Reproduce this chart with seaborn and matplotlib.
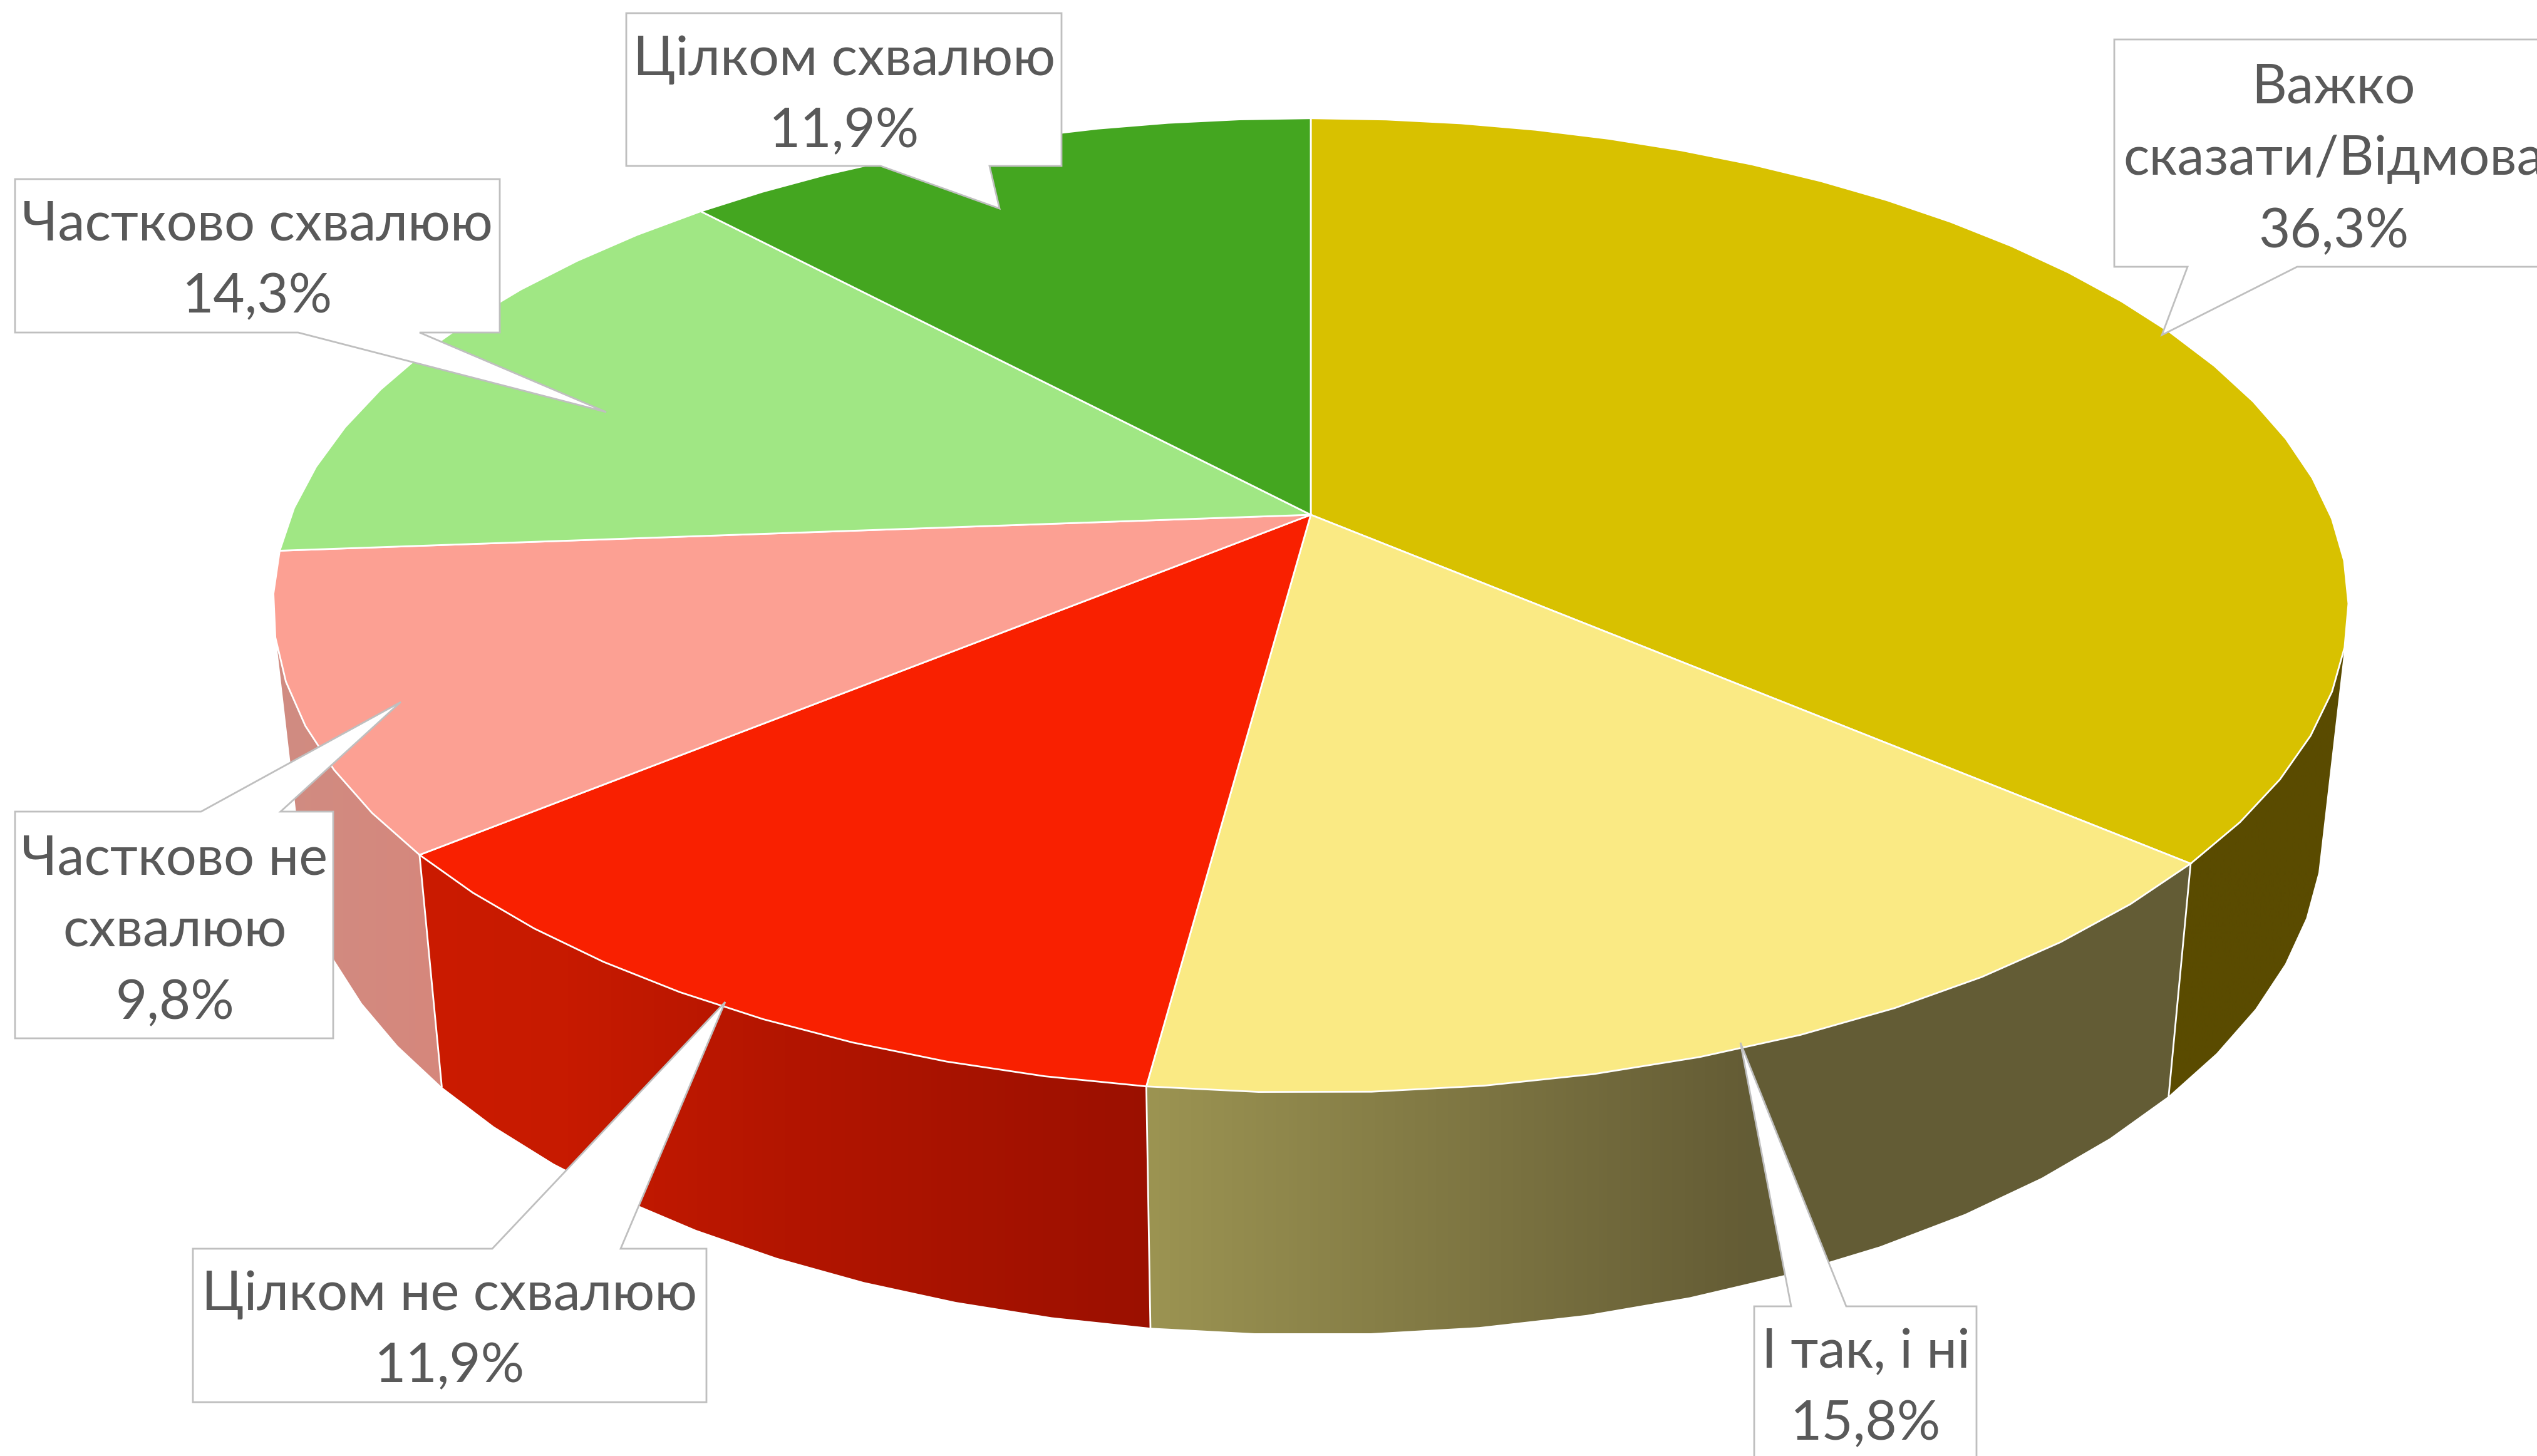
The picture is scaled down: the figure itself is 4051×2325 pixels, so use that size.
import numpy as np
import matplotlib
matplotlib.use("Agg")
import matplotlib.pyplot as plt
import seaborn as sns
from matplotlib.colors import LinearSegmentedColormap
from matplotlib.patches import Polygon

# data, clockwise from the top of the pie
names = ["Важко\nсказати/Відмова", "І так, і ні", "Цілком не схвалюю",
         "Частково не\nсхвалюю", "Частково схвалюю", "Цілком схвалюю"]
values = [36.3, 15.8, 11.9, 9.8, 14.3, 11.9]

top_colors = ["#d8c100", "#faea84", "#f92000", "#fca093", "#a0e784", "#44a620"]
side_stops = [
    [(0, "#5a4b00"), (1, "#5a4b00")],
    [(0, "#9c9452"), (0.576, "#645c35"), (1, "#635c36")],
    [(0, "#cb1b00"), (0.2, "#c71a00"), (0.5, "#b31500"), (1, "#9b1000")],
    [(0, "#d08c82"), (1, "#d6877c")],
]

# label centres
label_x = [3726, 2979, 718, 279, 411, 1348]
label_y = [255, 2217, 2125, 1487, 417, 153]

# box x0, x1, y0, y1, pointer start, tip, pointer end
callouts = [
    (3376, 4100, 63, 426, (3668, 426), (3452, 535), (3493, 426)),
    (2801, 3156, 2086, 2400, (2860, 2086), (2779, 1665), (2948, 2086)),
    (308, 1128, 1994, 2239, (786, 1994), (1158, 1600), (991, 1994)),
    (24, 532, 1296, 1658, (321, 1296), (640, 1121), (448, 1296)),
    (24, 798, 286, 531, (670, 531), (968, 658), (476, 531)),
    (1000, 1695, 21, 265, (1580, 265), (1596, 333), (1406, 265)),
]

sns.set_theme(style="white")
plt.rcParams["font.family"] = ["Lato", "Open Sans", "DejaVu Sans"]
palette = sns.color_palette(top_colors)

# perspective of the disc
cx, cy = 2093, 822
a, b, k = 1628, 751, 0.186
shrink, drop, b2 = 0.975, 349, 781
first_side = np.deg2rad(105.7)
last_side = np.deg2rad(254.3)


def top_xy(t):
    d = 1 + k * np.cos(t)
    return cx + a * np.sin(t) / d, cy - b * np.cos(t) / d


def bottom_xy(t):
    d = 1 + k * np.cos(t)
    return cx + shrink * a * np.sin(t) / d, cy + drop - b2 * np.cos(t) / d


def arc(t0, t1):
    n = max(int(round(np.rad2deg(t1 - t0) / 5)), 1) + 1
    return np.linspace(t0, t1, n)


fig = plt.figure(figsize=(4051 / 100, 2325 / 100), dpi=100)
ax = fig.add_axes([0, 0, 1, 1])
ax.set_xlim(0, 4051)
ax.set_ylim(2325, 0)
ax.axis("off")

edges = np.deg2rad(np.concatenate([[0], np.cumsum(values)]) * 3.6)

# side wall
for i in range(4):
    t0 = max(edges[i], first_side)
    t1 = min(edges[i + 1], last_side)
    ts = arc(t0, t1)
    xt, yt = top_xy(ts)
    xb, yb = bottom_xy(ts)
    pts = np.column_stack([np.r_[xt, xb[::-1]], np.r_[yt, yb[::-1]]])
    patch = Polygon(pts, closed=True, facecolor="none", edgecolor="none", zorder=2)
    ax.add_patch(patch)
    cmap = LinearSegmentedColormap.from_list("side%d" % i, side_stops[i], N=256)
    left, right = pts[:, 0].min(), pts[:, 0].max()
    im = ax.imshow(np.linspace(0, 1, 256).reshape(1, -1), cmap=cmap, aspect="auto",
                   extent=(left, right, pts[:, 1].max(), pts[:, 1].min()), zorder=2)
    im.set_clip_path(patch)
    if i < 3:
        ax.plot([xt[-1], xb[-1]], [yt[-1], yb[-1]], color="white", lw=2, zorder=3)
ax.set_xlim(0, 4051)
ax.set_ylim(2325, 0)

# top face
for i in range(len(values)):
    ts = arc(edges[i], edges[i + 1])
    xt, yt = top_xy(ts)
    ax.fill(np.r_[cx, xt], np.r_[cy, yt], facecolor=palette[i], edgecolor="white",
            lw=2, joinstyle="miter", zorder=4)

# labels
for i in range(len(values)):
    x0, x1, y0, y1, p1, tip, p2 = callouts[i]
    if p1[1] == y1:
        outline = [(x0, y0), (x1, y0), (x1, y1), p1, tip, p2, (x0, y1)]
    else:
        outline = [(x0, y0), p1, tip, p2, (x1, y0), (x1, y1), (x0, y1)]
    ax.add_patch(Polygon(outline, closed=True, facecolor="white", edgecolor="#bfbfbf",
                         lw=2, zorder=5))
    label = names[i] + "\n" + ("%.1f%%" % values[i]).replace(".", ",")
    ax.text(label_x[i], label_y[i], label, ha="center", va="center", fontsize=62.5,
            color="#595959", linespacing=1.57, zorder=6, clip_on=True)

fig.savefig("out.png", dpi=100, facecolor="white")
